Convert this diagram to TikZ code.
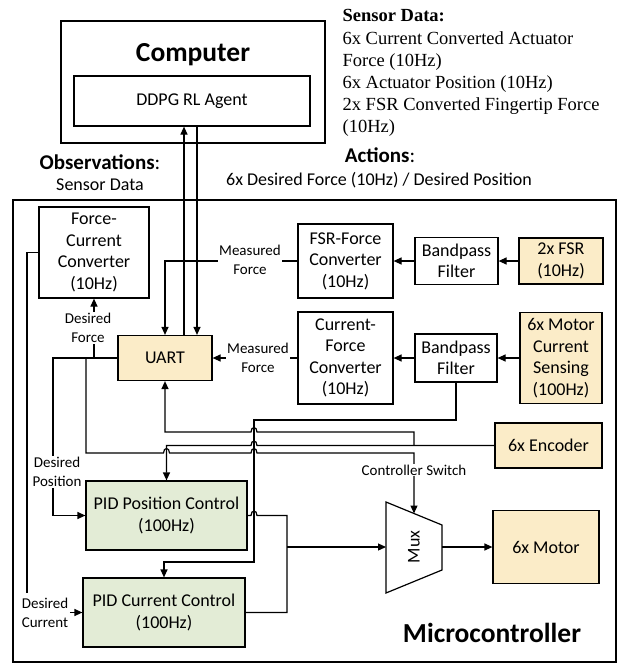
\documentclass[tikz,border=0pt]{standalone}
\usepackage{fontspec}
\setmainfont{Carlito}
\newfontfamily\serifblock{Liberation Serif}
\usetikzlibrary{arrows.meta}
\definecolor{srcfill}{HTML}{FBECC8}
\definecolor{ctrlfill}{HTML}{E3ECD6}

\begin{document}
\begin{tikzpicture}[x=1pt,y=-1pt, line width=1.2pt,
  >={Triangle[length=8pt,width=7pt]},
  blk/.style={draw, line width=1.2pt, align=center, inner sep=0pt,
              font=\fontsize{18}{21.5}\selectfont},
  src/.style={blk, fill=srcfill},
  ctrl/.style={blk, fill=ctrlfill},
  lbl/.style={align=center, inner sep=1pt, fill=white,
              font=\fontsize{15}{19}\selectfont},
  frame/.style={draw, line width=2pt},
  title/.style={font=\fontsize{27.5}{30}\selectfont\bfseries},
  head/.style={font=\fontsize{21}{24}\selectfont},
  plain/.style={font=\fontsize{18}{21}\selectfont},
  serifline/.style={anchor=base west, inner sep=0pt,
                    font=\serifblock\fontsize{18.5}{22}\selectfont},
  ]
\useasboundingbox (0,0) rectangle (622,664);

% ---------- computer side ----------
\node[frame, minimum width=264pt, minimum height=122pt] (computer) at (193,82) {};
\node[title] (comptitle) at (193,55) {Computer};
\node[blk, minimum width=236pt, minimum height=50pt] (agent) at (192,101) {DDPG RL Agent};

% ---------- interface texts ----------
\node[serifline] (sd0) at (342,21) {\bfseries Sensor Data:};
\node[serifline] (sd1) at (342,44) {6x Current Converted Actuator};
\node[serifline] (sd2) at (342,66) {Force (10Hz)};
\node[serifline] (sd3) at (342,88) {6x Actuator Position (10Hz)};
\node[serifline] (sd4) at (342,110) {2x FSR Converted Fingertip Force};
\node[serifline] (sd5) at (342,132) {(10Hz)};

\node[head] (obs) at (100,162) {\textbf{Observations}:};
\node[plain] (obsdata) at (100,185) {Sensor Data};
\node[head] (act) at (380,155) {\textbf{Actions}:};
\node[plain] (actdata) at (379,180) {6x Desired Force (10Hz) / Desired Position};

% ---------- microcontroller ----------
\node[frame, minimum width=603pt, minimum height=462pt] (micro) at (314.5,431) {};
\node[title] (microtitle) at (492,633) {Microcontroller};

\node[blk, minimum width=110pt, minimum height=91pt] (fcc) at (94,252.5)
  {Force-\\Current\\Converter\\(10Hz)};
\node[src, minimum width=94pt, minimum height=45pt] (uart) at (165,358) {UART};

\node[blk, minimum width=95pt, minimum height=74pt] (fsrconv) at (345.5,261)
  {FSR-Force\\Converter\\(10Hz)};
\node[blk, minimum width=83pt, minimum height=47pt] (bp1) at (456.5,261)
  {Bandpass\\Filter};
\node[src, minimum width=84pt, minimum height=46pt] (fsr) at (561,261)
  {2x FSR\\(10Hz)};

\node[blk, minimum width=95pt, minimum height=92pt] (cfc) at (345.5,358)
  {Current-\\Force\\Converter\\(10Hz)};
\node[blk, minimum width=82pt, minimum height=48pt] (bp2) at (456,358)
  {Bandpass\\Filter};
\node[src, minimum width=82pt, minimum height=91pt] (mcs) at (561,358)
  {6x Motor\\Current\\Sensing\\(100Hz)};

\node[src, minimum width=107pt, minimum height=45pt] (enc) at (548.5,445.5) {6x Encoder};

\node[ctrl, minimum width=161pt, minimum height=69pt] (pidp) at (166.5,515.5)
  {PID Position Control\\(100Hz)};
\node[ctrl, minimum width=162pt, minimum height=69pt] (pidc) at (164,612.5)
  {PID Current Control\\(100Hz)};

\node[src, minimum width=106pt, minimum height=73pt] (motor) at (546,547) {6x Motor};

% multiplexer
\coordinate (muxin) at (386,547);
\coordinate (muxout) at (442,547);
\coordinate (muxtop) at (414,513.5);
\draw (386,502) -- (442,525) -- (442,570) -- (386,593) -- cycle;
\node[rotate=90, font=\fontsize{18}{21}\selectfont] (muxtext) at (414,547) {Mux};

% ---------- connectors ----------
\coordinate (upx) at (184,0);
\coordinate (dnx) at (197,0);
\draw[->] (uart.north -| upx) -- (agent.south -| upx);
\draw[->] (agent.south -| dnx) -- (uart.north -| dnx);

% sensor chains
\draw[->] (fsr.west) -- (bp1.east);
\draw[->] (bp1.west) -- (fsrconv.east);
\draw[->] (mcs.west) -- (bp2.east);
\draw[->] (bp2.west) -- (cfc.east);

% measured forces into UART
\draw[->] (fsrconv.west) -- (165,261) -- (uart.north);
\draw[->] (cfc.west) -- (uart.east);

% UART outputs
\draw[->] (uart.west) -| (fcc.south);
\draw[->] (uart.west) -- (53,358) |- (pidp.west);
\draw[->] (uart.west) -- (86,358) -- (86,453) -- (163.5,453)
  .. controls (163.5,447) and (169.5,447) .. (169.5,453) -- (251,453)
  .. controls (251,447) and (257,447) .. (257,453) -- (414,453) -- (muxtop);

% force-current converter to current controller
\draw (fcc.west) -| (27,593);

% encoder feedback
\draw[->] (enc.west) -- (257,445.5)
  .. controls (257,439.5) and (251,439.5) .. (251,445.5)
  -- (pidp.north |- enc.west) -- (pidp.north);
\draw[->] (414,445.5) -- (414,432) -- (257,432)
  .. controls (257,426) and (251,426) .. (251,432) -- (165,432) -- (uart.south);

% filtered current to current controller
\draw[->] (bp2.south) |- (254,420) -- (254,562) -| (pidc.north);

% controller outputs to multiplexer
\draw (pidp.east) -- (251,515.5) .. controls (251,509.5) and (257,509.5) .. (257,515.5)
  -- (287,515.5) |- (pidc.east);
\draw[->] (287,547) -- (muxin);
\draw[->] (muxout) -- (motor.west);

% connector labels
\node[lbl] (mf1) at (250,260) {Measured\\Force};
\node[lbl] (mf2) at (258,358) {Measured\\Force};
\node[lbl] (dforce) at (88,328) {Desired\\Force};
\node[lbl] (dpos) at (57,472) {Desired\\Position};
\node[lbl] (cswitch) at (414,470) {Controller Switch};
\node[lbl] (dcur) at (45,612.5) {Desired\\Current};
\draw[->] (dcur.east) -- (pidc.west);
\end{tikzpicture}
\end{document}
